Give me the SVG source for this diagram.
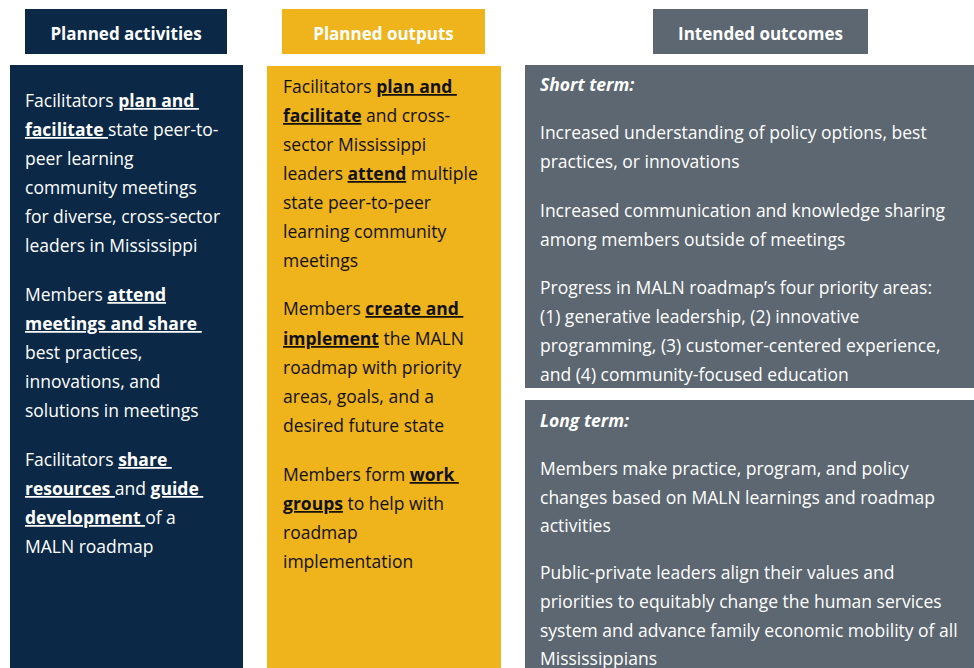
<svg xmlns="http://www.w3.org/2000/svg" width="974" height="668" viewBox="0 0 974 668">
<style>
text{font-family:"Open Sans","Liberation Sans",sans-serif;font-size:17.5px}
.hd{font-weight:700;font-size:17px;fill:#ffffff;text-anchor:middle}
.w{fill:#ffffff}
.k{fill:#111111}
.b{font-weight:700;text-decoration:underline}
.bi{font-weight:700;font-style:italic}
.navy{fill:#0b2947}
.gold{fill:#efb31c}
.gray{fill:#5c6771}
</style>
<rect width="974" height="668" fill="#ffffff"/>
<g id="header-activities">
<rect class="navy" x="25" y="9" width="202" height="45"/>
<text class="hd" x="126" y="40">Planned activities</text>
</g>
<g id="header-outputs">
<rect class="gold" x="282" y="9" width="203" height="45"/>
<text class="hd" x="383.5" y="40">Planned outputs</text>
</g>
<g id="header-outcomes">
<rect class="gray" x="653" y="9" width="215" height="45"/>
<text class="hd" x="760.5" y="40">Intended outcomes</text>
</g>
<g id="activities">
<rect class="navy" x="10" y="65" width="233" height="603"/>
<text class="w" x="25">
<tspan x="25" y="107">Facilitators <tspan class="b">plan and </tspan></tspan>
<tspan x="25" y="136"><tspan class="b">facilitate </tspan>state peer-to-</tspan>
<tspan x="25" y="165">peer learning</tspan>
<tspan x="25" y="194">community meetings</tspan>
<tspan x="25" y="223">for diverse, cross-sector</tspan>
<tspan x="25" y="252">leaders in Mississippi</tspan>
<tspan x="25" y="301">Members <tspan class="b">attend</tspan></tspan>
<tspan x="25" y="330"><tspan class="b">meetings and share </tspan></tspan>
<tspan x="25" y="359">best practices,</tspan>
<tspan x="25" y="388">innovations, and</tspan>
<tspan x="25" y="417">solutions in meetings</tspan>
<tspan x="25" y="466">Facilitators <tspan class="b">share </tspan></tspan>
<tspan x="25" y="495"><tspan class="b">resources </tspan>and <tspan class="b">guide </tspan></tspan>
<tspan x="25" y="524"><tspan class="b">development </tspan>of a</tspan>
<tspan x="25" y="553">MALN roadmap</tspan>
</text>
</g>
<g id="outputs">
<rect class="gold" x="267" y="66" width="234" height="602"/>
<text class="k" x="283">
<tspan x="283" y="93">Facilitators <tspan class="b">plan and </tspan></tspan>
<tspan x="283" y="122"><tspan class="b">facilitate</tspan> and cross-</tspan>
<tspan x="283" y="151">sector Mississippi</tspan>
<tspan x="283" y="180">leaders <tspan class="b">attend</tspan> multiple</tspan>
<tspan x="283" y="209">state peer-to-peer</tspan>
<tspan x="283" y="238">learning community</tspan>
<tspan x="283" y="267">meetings</tspan>
<tspan x="283" y="315">Members <tspan class="b">create and </tspan></tspan>
<tspan x="283" y="345"><tspan class="b">implement</tspan> the MALN</tspan>
<tspan x="283" y="374">roadmap with priority</tspan>
<tspan x="283" y="403">areas, goals, and a</tspan>
<tspan x="283" y="432">desired future state</tspan>
<tspan x="283" y="481">Members form <tspan class="b">work </tspan></tspan>
<tspan x="283" y="510"><tspan class="b">groups</tspan> to help with</tspan>
<tspan x="283" y="539">roadmap</tspan>
<tspan x="283" y="568">implementation</tspan>
</text>
</g>
<g id="short-term">
<rect class="gray" x="525" y="65" width="449" height="323"/>
<text class="w" x="540">
<tspan class="bi" x="540" y="91">Short term:</tspan>
<tspan x="540" y="139">Increased understanding of policy options, best</tspan>
<tspan x="540" y="168">practices, or innovations</tspan>
<tspan x="540" y="217">Increased communication and knowledge sharing</tspan>
<tspan x="540" y="246">among members outside of meetings</tspan>
<tspan x="540" y="294">Progress in MALN roadmap’s four priority areas:</tspan>
<tspan x="540" y="323">(1) generative leadership, (2)  innovative</tspan>
<tspan x="540" y="352">programming, (3) customer-centered experience,</tspan>
<tspan x="540" y="381">and (4) community-focused education</tspan>
</text>
</g>
<g id="long-term">
<rect class="gray" x="525" y="400" width="449" height="268"/>
<text class="w" x="540">
<tspan class="bi" x="540" y="427">Long term:</tspan>
<tspan x="540" y="475">Members make practice, program, and policy</tspan>
<tspan x="540" y="504">changes based on MALN learnings and roadmap</tspan>
<tspan x="540" y="532">activities</tspan>
<tspan x="540" y="579">Public-private leaders align their values and</tspan>
<tspan x="540" y="608">priorities to equitably change the human services</tspan>
<tspan x="540" y="637">system and advance family economic mobility of all</tspan>
<tspan x="540" y="665">Mississippians</tspan>
</text>
</g>
<g id="connectors"></g>
</svg>
